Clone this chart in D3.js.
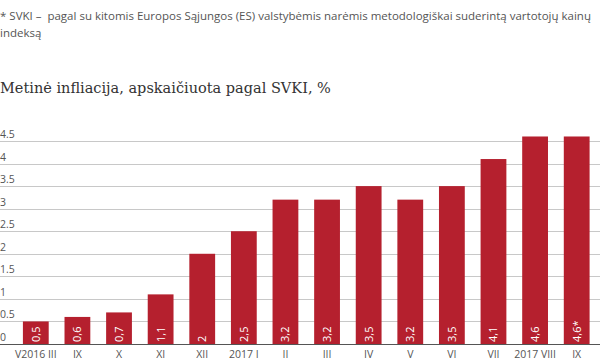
<!DOCTYPE html>
<html>
<head>
<meta charset="utf-8">
<script src="https://cdn.jsdelivr.net/npm/d3@7"></script>
<style>
  body { margin: 0; background: #fff; }
  svg { display: block; }
</style>
</head>
<body>
<svg id="chart" width="600" height="360"></svg>
<script>
var months = ["V2016 III", "IX", "X", "XI", "XII", "2017 I", "II", "III", "IV", "V", "VI", "VII", "2017 VIII", "IX"];
var values = [0.5, 0.6, 0.7, 1.1, 2, 2.5, 3.2, 3.2, 3.5, 3.2, 3.5, 4.1, 4.6, 4.6];
var valueLabels = ["0,5", "0,6", "0,7", "1,1", "2", "2,5", "3,2", "3,2", "3,5", "3,2", "3,5", "4,1", "4,6", "4,6*"];
var yTicks = [0, 0.5, 1, 1.5, 2, 2.5, 3, 3.5, 4, 4.5];

var svg = d3.select("#chart");

// footnote
var note = svg.append("text")
  .attr("x", 0)
  .attr("y", 20)
  .style("font-family", "'Open Sans', sans-serif")
  .style("font-size", "11.5px")
  .style("fill", "#555");
note.append("tspan").attr("x", 0).attr("dy", 0)
  .text("* SVKI –\u00a0 pagal su kitomis Europos Sąjungos (ES) valstybėmis narėmis metodologiškai suderintą vartotojų kainų");
note.append("tspan").attr("x", 0).attr("dy", 16.5)
  .text("indeksą");

// title
svg.append("text")
  .attr("x", 0)
  .attr("y", 93)
  .style("font-family", "'DejaVu Serif', serif")
  .style("font-size", "14.5px")
  .style("fill", "#333")
  .text("Metinė infliacija, apskaičiuota pagal SVKI, %");

var x = d3.scaleBand()
  .domain(d3.range(months.length))
  .range([15, 597.5])
  .paddingInner(0.38)
  .paddingOuter(0.19);

var y = d3.scaleLinear()
  .domain([0, 4.5])
  .range([344, 141]);

// gridlines
svg.append("g")
  .selectAll("line")
  .data(yTicks.slice(1))
  .enter().append("line")
  .attr("x1", 0)
  .attr("x2", 600)
  .attr("y1", function(d) { return Math.round(y(d)) + 0.5; })
  .attr("y2", function(d) { return Math.round(y(d)) + 0.5; })
  .style("stroke", "#c8c8c8")
  .style("stroke-width", 1);

// y labels
svg.append("g")
  .selectAll("text")
  .data(yTicks)
  .enter().append("text")
  .attr("x", 0)
  .attr("y", function(d) { return y(d) - 3; })
  .style("font-family", "'Open Sans', sans-serif")
  .style("font-size", "10.5px")
  .style("fill", "#555")
  .text(function(d) { return d; });

// bars
svg.append("g")
  .selectAll("rect")
  .data(values)
  .enter().append("rect")
  .attr("x", function(d, i) { return x(i); })
  .attr("width", x.bandwidth())
  .attr("y", function(d) { return y(d); })
  .attr("height", function(d) { return y(0) - y(d); })
  .style("fill", "#b5202e");

// value labels inside bars
svg.append("g")
  .selectAll("text")
  .data(valueLabels)
  .enter().append("text")
  .attr("transform", function(d, i) {
    return "translate(" + (x(i) + x.bandwidth() / 2 + 4) + "," + 342 + ") rotate(-90)";
  })
  .style("font-family", "'Open Sans', sans-serif")
  .style("font-size", "11px")
  .style("fill", "#fff")
  .text(function(d) { return d; });

// baseline
svg.append("line")
  .attr("x1", 0)
  .attr("x2", 600)
  .attr("y1", y(0) + 0.5)
  .attr("y2", y(0) + 0.5)
  .style("stroke", "#555")
  .style("stroke-width", 1.2);

// x labels
svg.append("g")
  .selectAll("text")
  .data(months)
  .enter().append("text")
  .attr("x", function(d, i) { return x(i) + x.bandwidth() / 2; })
  .attr("y", 358)
  .attr("text-anchor", "middle")
  .style("font-family", "'Open Sans', sans-serif")
  .style("font-size", "10.5px")
  .style("fill", "#555")
  .text(function(d) { return d; });
</script>
</body>
</html>
